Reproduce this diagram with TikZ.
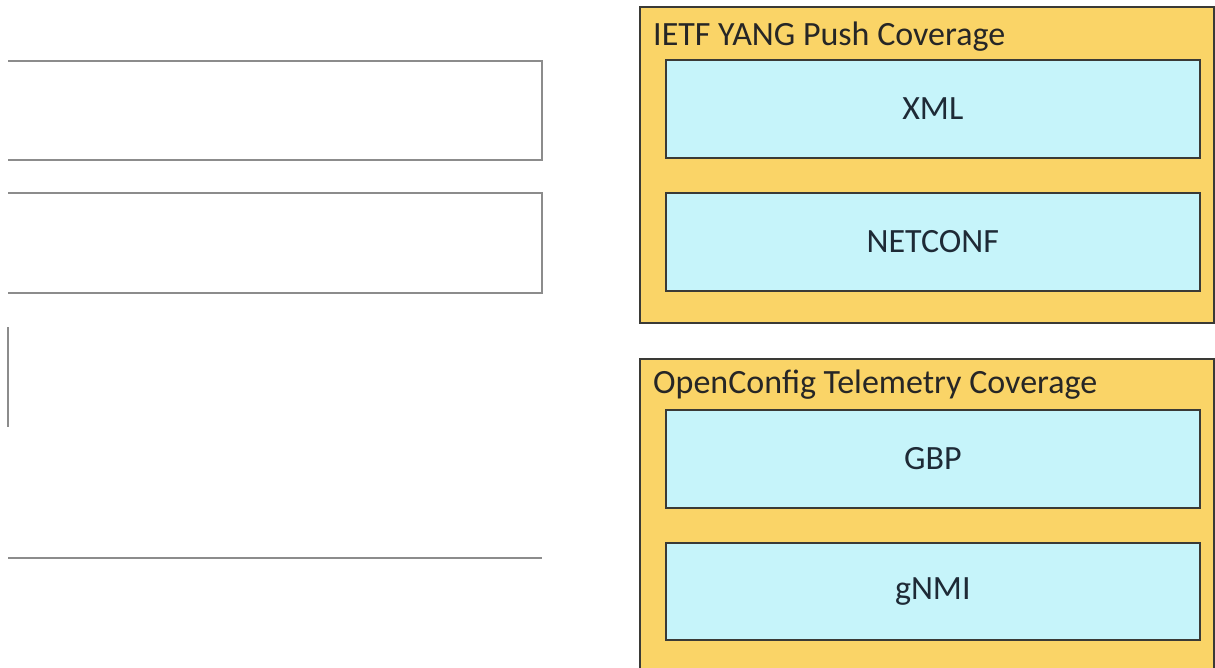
\documentclass[tikz,border=0pt]{standalone}
\usepackage{fontspec}
\setmainfont{Carlito}
\definecolor{orangefill}{HTML}{FAD467}
\definecolor{cyanfill}{HTML}{C6F4FA}
\definecolor{boxline}{HTML}{3A3A36}
\definecolor{txt}{HTML}{1E2A36}
\definecolor{slotline}{HTML}{8C8C8C}
\tikzset{
  panel/.style={draw=boxline, line width=1.6pt, fill=orangefill, anchor=north west, inner sep=0pt},
  itembox/.style={draw=boxline, line width=1.6pt, fill=cyanfill, anchor=north west, inner sep=0pt,
    text=txt, font=\fontsize{34}{38}\selectfont},
  paneltitle/.style={anchor=base west, text=black!85, inner sep=0pt, font=\fontsize{34}{38}\selectfont},
  slot/.style={draw=slotline, line width=1.5pt}
}
\begin{document}
\begin{tikzpicture}[x=1pt,y=-1pt]
\useasboundingbox (0,0) rectangle (1215,667);
\fill[white] (0,0) rectangle (1215,667);
% left answer slots
\coordinate (s1a) at (8,61); \coordinate (s1b) at (542,61);
\coordinate (s1c) at (542,160); \coordinate (s1d) at (8,160);
\draw[slot] (s1a) -- (s1b) -- (s1c) -- (s1d);
\coordinate (s2a) at (8,193); \coordinate (s2b) at (542,193);
\coordinate (s2c) at (542,293); \coordinate (s2d) at (8,293);
\draw[slot] (s2a) -- (s2b) -- (s2c) -- (s2d);
\coordinate (s3a) at (8,327); \coordinate (s3b) at (8,427);
\draw[slot] (s3a) -- (s3b);
\coordinate (s4a) at (8,558); \coordinate (s4b) at (542,558);
\draw[slot] (s4a) -- (s4b);
% right panels
\node[panel, minimum width=574pt, minimum height=316pt] (ietf) at (639,6) {};
\node[paneltitle] (ietft) at (653,45) {IETF YANG Push Coverage};
\node[itembox, minimum width=534pt, minimum height=98pt] (xml) at (665,59) {XML};
\node[itembox, minimum width=534pt, minimum height=98pt] (netconf) at (665,192) {NETCONF};
\node[panel, minimum width=574pt, minimum height=320pt] (oc) at (639,358) {};
\node[paneltitle] (oct) at (653,393) {OpenConfig Telemetry Coverage};
\node[itembox, minimum width=534pt, minimum height=98pt] (gbp) at (665,409) {GBP};
\node[itembox, minimum width=534pt, minimum height=97pt] (gnmi) at (665,542) {gNMI};
\end{tikzpicture}
\end{document}
